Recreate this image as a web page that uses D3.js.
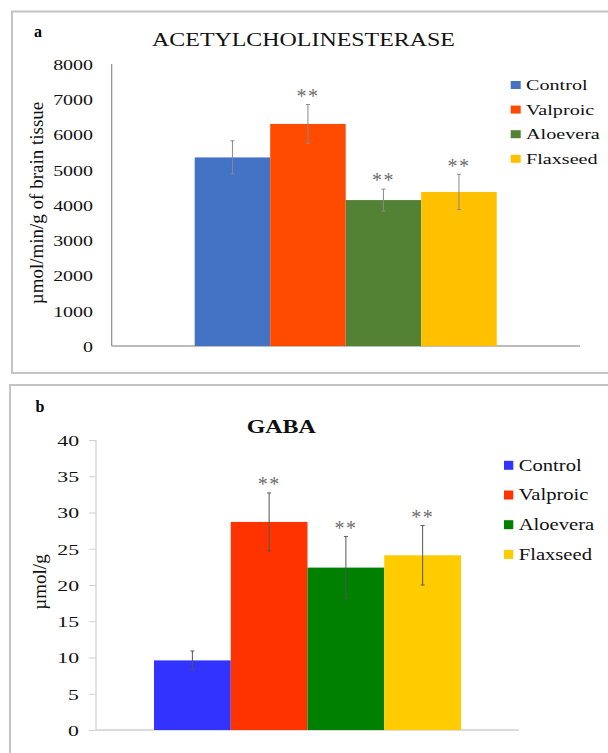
<!DOCTYPE html>
<html>
<head>
<meta charset="utf-8">
<script src="https://cdn.jsdelivr.net/npm/d3@7"></script>
<style>
  html, body { margin: 0; padding: 0; background: #fff; }
  svg { display: block; }
  svg text { font-family: "Liberation Serif", "Times New Roman", serif !important; }
</style>
</head>
<body>
<svg id="chart" width="608" height="753" font-family="Liberation Serif"></svg>
<script>
// ---- data ----
const categories = ["Control", "Valproic", "Aloevera", "Flaxseed"];

const acheValues = [5350, 6300, 4140, 4370];
const acheErrors = [470, 550, 310, 500];
const acheMarks = ["", "**", "**", "**"];
const acheTicks = [0, 1000, 2000, 3000, 4000, 5000, 6000, 7000, 8000];
const acheColors = ["#4472C4", "#FF4B00", "#548235", "#FFC000"];

const gabaValues = [9.6, 28.7, 22.4, 24.1];
const gabaErrors = [1.3, 4.0, 4.3, 4.1];
const gabaMarks = ["", "**", "**", "**"];
const gabaTicks = [0, 5, 10, 15, 20, 25, 30, 35, 40];
const gabaColors = ["#3333FF", "#FF3300", "#008000", "#FFCC00"];

const FONT = "Liberation Serif";
const svg = d3.select("#chart");

// panel frames
svg.append("rect").attr("x", 12).attr("y", 11.5).attr("width", 640).attr("height", 361.5)
  .attr("fill", "none").attr("stroke", "#c4c4c4").attr("stroke-width", 2);
svg.append("rect").attr("x", 10).attr("y", 385).attr("width", 640).attr("height", 400)
  .attr("fill", "none").attr("stroke", "#c4c4c4").attr("stroke-width", 2);

function panel(cfg) {
  const g = svg.append("g").attr("font-family", FONT);
  const x = d3.scaleBand().domain(categories).range(cfg.barRange).padding(0);
  const y = d3.scaleLinear().domain(cfg.domain).range(cfg.yRange);

  // panel letter
  g.append("text").attr("x", cfg.letterX).attr("y", cfg.letterY)
    .attr("text-anchor", "middle").attr("font-weight", "bold").attr("font-size", 16)
    .attr("font-family", FONT).attr("fill", "#000").text(cfg.letter);

  // title
  g.append("text")
    .attr("transform", `translate(${cfg.titleX},${cfg.titleY}) scale(${cfg.titleSX},1)`)
    .attr("dy", "0.35em").attr("text-anchor", "middle").attr("font-family", FONT)
    .attr("font-size", cfg.titleSize).attr("font-weight", cfg.titleWeight)
    .attr("fill", "#111").text(cfg.title);

  // y axis
  const ax = g.append("g").attr("transform", `translate(${cfg.axisX},0)`)
    .call(d3.axisLeft(y).tickValues(cfg.ticks).tickSize(cfg.tickSize).tickFormat(d3.format("d")));
  ax.attr("font-family", FONT);
  ax.select(".domain").attr("stroke", cfg.yAxisColor).attr("stroke-width", 1.2)
    .attr("d", `M0,${cfg.yRange[0]}V${cfg.yRange[1]}`);
  ax.selectAll(".tick line").attr("stroke", cfg.xAxisColor);
  ax.selectAll(".tick text")
    .attr("x", null).attr("dy", "0.35em")
    .attr("transform", `translate(${-cfg.labelGap},0) scale(${cfg.tickSX},1)`)
    .attr("font-size", cfg.tickSize2).attr("fill", "#111")
    .attr("font-family", FONT);

  // x axis baseline
  g.append("line").attr("x1", cfg.axisX).attr("x2", cfg.xAxisEnd)
    .attr("y1", y(0)).attr("y2", y(0))
    .attr("stroke", cfg.xAxisColor).attr("stroke-width", 1.5);

  // y label
  g.append("text")
    .attr("transform", `translate(${cfg.yLabelX},${cfg.yLabelY}) rotate(-90)`)
    .attr("dy", "0.32em").attr("text-anchor", "middle").attr("font-family", FONT)
    .attr("font-size", cfg.yLabelSize).attr("fill", "#111").text(cfg.yLabel);

  // bars
  g.selectAll("rect.bar").data(categories).enter().append("rect")
    .attr("class", "bar")
    .attr("x", d => x(d)).attr("width", x.bandwidth())
    .attr("y", (d, i) => y(cfg.values[i]))
    .attr("height", (d, i) => y(0) - y(cfg.values[i]))
    .attr("fill", (d, i) => cfg.colors[i]);

  // error bars
  const eb = g.selectAll("g.err").data(categories).enter().append("g").attr("class", "err");
  eb.append("line")
    .attr("x1", d => x(d) + x.bandwidth() / 2).attr("x2", d => x(d) + x.bandwidth() / 2)
    .attr("y1", (d, i) => y(cfg.values[i] + cfg.errors[i]))
    .attr("y2", (d, i) => y(cfg.values[i] - cfg.errors[i]))
    .attr("stroke", cfg.errColor).attr("stroke-width", 1);
  [1, -1].forEach(s => {
    eb.append("line")
      .attr("x1", d => x(d) + x.bandwidth() / 2 - 2).attr("x2", d => x(d) + x.bandwidth() / 2 + 2)
      .attr("y1", (d, i) => y(cfg.values[i] + s * cfg.errors[i]))
      .attr("y2", (d, i) => y(cfg.values[i] + s * cfg.errors[i]))
      .attr("stroke", cfg.errColor).attr("stroke-width", 1);
  });

  // significance marks
  g.selectAll("text.sig").data(categories).enter().append("text")
    .attr("class", "sig")
    .attr("x", d => x(d) + x.bandwidth() / 2)
    .attr("y", (d, i) => y(cfg.values[i] + cfg.errors[i]) - 12 + 0.51 * 20)
    .attr("text-anchor", "middle").attr("font-size", 20).attr("letter-spacing", 1.5)
    .attr("font-family", FONT)
    .attr("fill", "#6e6e6e").text((d, i) => cfg.marks[i]);

  // legend
  const lg = g.selectAll("g.leg").data(categories).enter().append("g").attr("class", "leg")
    .attr("transform", (d, i) => `translate(${cfg.legX},${cfg.legY + i * cfg.legStep})`);
  lg.append("rect").attr("x", 0).attr("y", -cfg.swH / 2).attr("width", cfg.swW).attr("height", cfg.swH)
    .attr("fill", (d, i) => cfg.colors[i]);
  lg.append("text")
    .attr("transform", `translate(${cfg.legTextDX},0) scale(${cfg.legSX},1)`)
    .attr("dy", "0.33em").attr("font-size", cfg.legSize).attr("fill", "#111")
    .attr("font-family", FONT)
    .text(d => d);
}

panel({
  letter: "a", letterX: 38, letterY: 37,
  title: "ACETYLCHOLINESTERASE", titleX: 303.5, titleY: 40, titleSX: 1.33, titleSize: 18, titleWeight: "normal",
  barRange: [194.7, 496.7], domain: [0, 8000], yRange: [346, 64], ticks: acheTicks,
  values: acheValues, errors: acheErrors, marks: acheMarks, colors: acheColors,
  axisX: 111.7, tickSize: 0, labelGap: 18.7, tickSX: 1.33, tickSize2: 15,
  yAxisColor: "#8a8a8a", xAxisColor: "#a6a6a6", xAxisEnd: 580,
  yLabel: "µmol/min/g of brain tissue", yLabelX: 36.5, yLabelY: 203, yLabelSize: 19,
  errColor: "#8a8a8a",
  legX: 510.7, legY: 85, legStep: 24.6, swW: 10, swH: 8, legTextDX: 15.3, legSX: 1.3, legSize: 15.5
});

panel({
  letter: "b", letterX: 40, letterY: 411.5,
  title: "GABA", titleX: 281.3, titleY: 426.7, titleSX: 1.26, titleSize: 19, titleWeight: "bold",
  barRange: [154, 461], domain: [0, 40], yRange: [730, 440], ticks: gabaTicks,
  values: gabaValues, errors: gabaErrors, marks: gabaMarks, colors: gabaColors,
  axisX: 96, tickSize: 7, labelGap: 17, tickSX: 1.45, tickSize2: 15,
  yAxisColor: "#d0d0d0", xAxisColor: "#d0d0d0", xAxisEnd: 519,
  yLabel: "µmol/g", yLabelX: 40, yLabelY: 582, yLabelSize: 19,
  errColor: "#555555",
  legX: 504, legY: 465.3, legStep: 29.7, swW: 9.3, swH: 9, legTextDX: 14.7, legSX: 1.25, legSize: 16.5
});
</script>
</body>
</html>
